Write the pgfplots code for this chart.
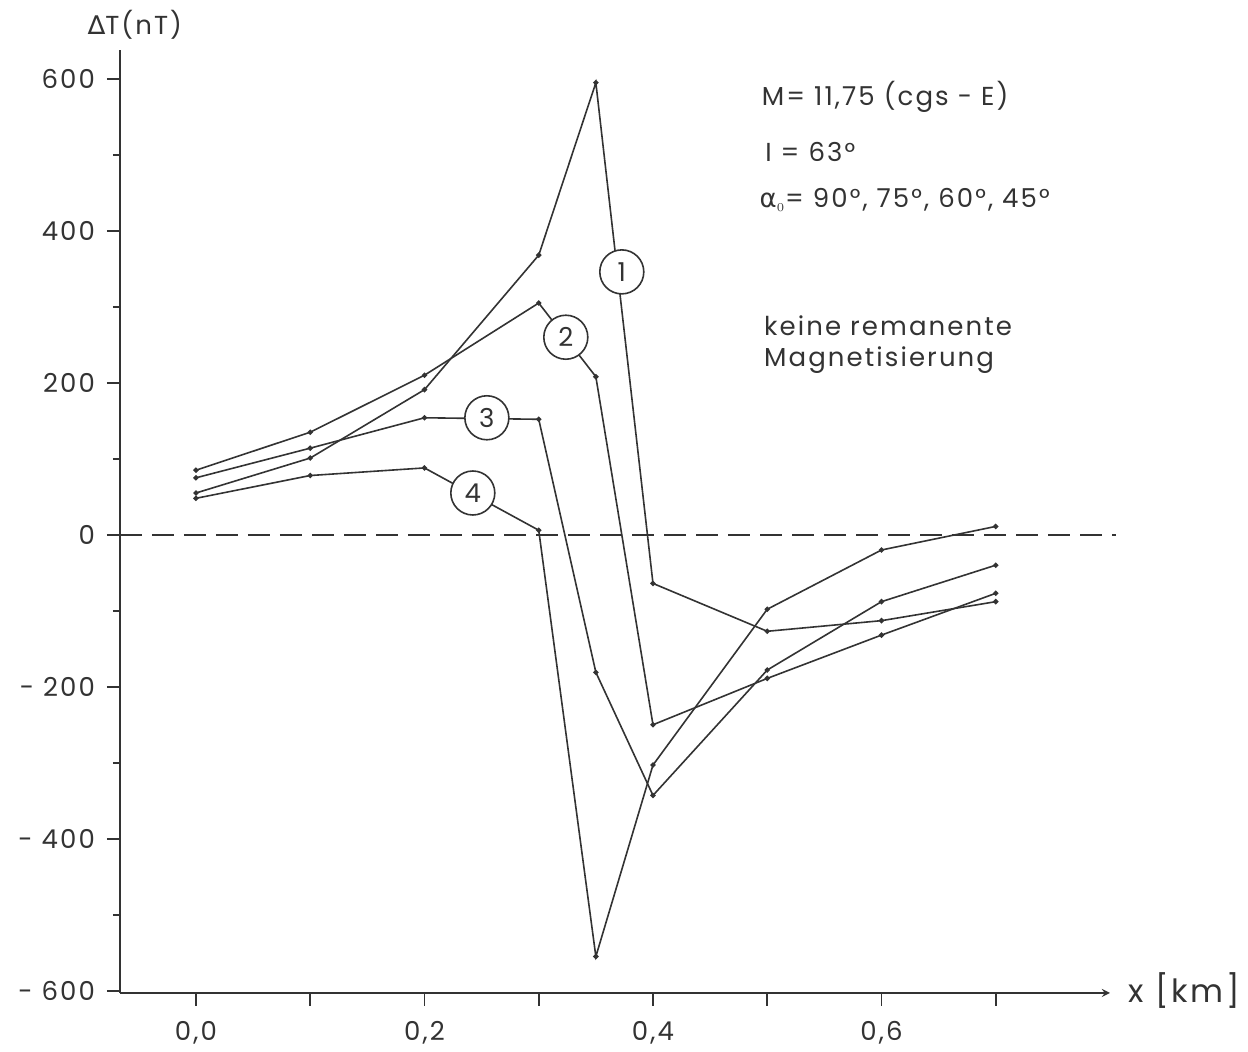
\documentclass[border=0pt]{standalone}
\usepackage{fontspec}
\setmainfont{Poppins}[LetterSpace=8]
\newfontfamily\dejavu{DejaVu Sans}[LetterSpace=8]
\usepackage{pgfplots}
\pgfplotsset{compat=1.18}

\newcommand\f{\fontsize{13}{17}\selectfont}
\tikzset{crv/.style={black!80, line width=0.8pt, mark=*, mark size=0.9pt}}

\begin{document}
\begin{tikzpicture}
\begin{axis}[
    at={(0,0)}, anchor=south west,
    width=495pt, height=471.5pt, scale only axis,
    xmin=-0.0665, xmax=0.80,
    ymin=-603, ymax=638,
    axis x line=bottom, axis y line=left,
    x axis line style={-stealth},
    y axis line style={-},
    axis line style={black!80, line width=0.8pt},
    tick align=outside,
    major tick length=6.5pt, minor tick length=3.5pt,
    tick style={black!80, line width=0.8pt},
    xtick={0,0.1,0.2,0.3,0.4,0.5,0.6,0.7},
    xticklabels={{0,0},{},{0,2},{},{0,4},{},{0,6},{}},
    ytick={-600,-400,-200,0,200,400,600},
    yticklabels={- 600,- 400,- 200,0,200,400,600},
    minor ytick={-500,-300,-100,100,300,500},
    every tick label/.append style={font=\f, text=black!80},
    xticklabel style={yshift=-4pt},
    yticklabel style={xshift=-2.5pt},
    clip=false,
]
% curve 1
\addplot[crv] coordinates {(0,55) (0.1,101) (0.2,191) (0.3,368) (0.35,595) (0.4,-64) (0.5,-127) (0.6,-113) (0.7,-88)};
% curve 2
\addplot[crv] coordinates {(0,85) (0.1,135) (0.2,210) (0.3,305) (0.35,208) (0.4,-250) (0.5,-189) (0.6,-132) (0.7,-77)};
% curve 3
\addplot[crv] coordinates {(0,75) (0.1,114) (0.2,154) (0.3,152) (0.35,-181) (0.4,-343) (0.5,-178) (0.6,-88) (0.7,-40)};
% curve 4
\addplot[crv] coordinates {(0,48) (0.1,78) (0.2,88) (0.3,6) (0.35,-555) (0.4,-303) (0.5,-98) (0.6,-20) (0.7,11)};
% zero line
\addplot[black!80, line width=0.8pt, no marks, dash pattern=on 11pt off 5pt] coordinates {(-0.0665,0) (0.805,0)};

\tikzset{lbl/.style={circle, draw=black!80, line width=0.8pt, fill=white, minimum size=22pt, inner sep=0pt, font=\f, text=black!80}}
\node[lbl] at (axis cs:0.3727,346) {1};
\node[lbl] at (axis cs:0.3237,260) {2};
\node[lbl] at (axis cs:0.2546,154) {3};
\node[lbl] at (axis cs:0.2423,55) {4};

\node[font=\f, text=black!80] at (axis cs:-0.0534,671) {{\dejavu ∆}T(nT)};
\node[font=\fontsize{16}{18}\selectfont, text=black!80] at (axis cs:0.865,-600) {x [km]};

\tikzset{txt/.style={anchor=west, font=\f, text=black!80, inner sep=0pt}}
\node[txt] at (axis cs:0.495,576) {M= 11,75 (cgs - E)};
\node[txt] at (axis cs:0.498,504) {I = 63°};
\node[txt] at (axis cs:0.493,441) {{\dejavu α}$_{\scriptscriptstyle 0}$= 90°, 75°, 60°, 45°};
\node[txt] at (axis cs:0.497,275) {keine remanente};
\node[txt] at (axis cs:0.497,230) {Magnetisierung};
\end{axis}
\useasboundingbox (-60pt,-29.5pt) rectangle (564pt,496.5pt);
\end{tikzpicture}
\end{document}
